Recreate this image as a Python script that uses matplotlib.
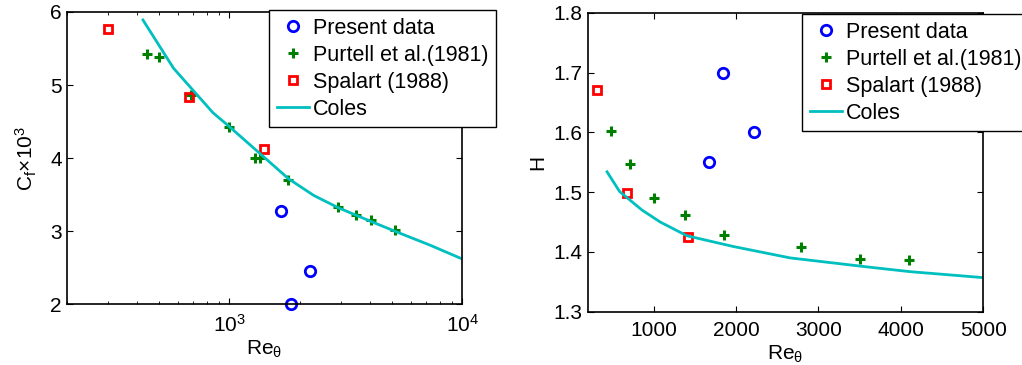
import matplotlib
matplotlib.use("Agg")
import matplotlib.pyplot as plt

plt.rcParams['font.family'] = ['Liberation Sans', 'DejaVu Sans']
plt.rcParams['mathtext.fontset'] = 'custom'
plt.rcParams['mathtext.rm'] = 'Liberation Sans'
plt.rcParams['mathtext.it'] = 'Liberation Sans'

# ---- left panel: skin friction ----
cf_present_re = [1667, 2208, 1842]
cf_present = [3.28, 2.45, 2.00]
cf_purtell_re = [444, 497, 682, 1000, 1289, 1355, 1786, 2925, 3483, 4053, 5150]
cf_purtell = [5.42, 5.39, 4.86, 4.42, 4.00, 4.00, 3.70, 3.33, 3.22, 3.15, 3.02]
cf_spalart_re = [301, 670, 1413]
cf_spalart = [5.76, 4.84, 4.12]
cf_coles_re = [425, 575, 850, 1000, 1400, 1790, 2300, 2940, 4080, 5230, 7260, 10000]
cf_coles = [5.89, 5.23, 4.62, 4.43, 4.02, 3.72, 3.49, 3.32, 3.13, 2.99, 2.81, 2.62]

# ---- right panel: shape factor ----
h_present_re = [1845, 2217, 1675]
h_present = [1.700, 1.600, 1.550]
h_purtell_re = [479, 714, 1008, 1376, 1857, 2794, 3505, 4099]
h_purtell = [1.603, 1.547, 1.491, 1.461, 1.428, 1.409, 1.388, 1.386]
h_spalart_re = [313, 678, 1421]
h_spalart = [1.670, 1.498, 1.425]
h_coles_re = [435, 588, 860, 1081, 1405, 1970, 2657, 3587, 4112, 5000]
h_coles = [1.534, 1.501, 1.470, 1.450, 1.427, 1.409, 1.390, 1.375, 1.367, 1.357]

blue, green, red, cyan = '#0000ff', '#008000', '#ff0000', '#00bfbf'
fs = 15

fig = plt.figure(figsize=(10.22, 3.65), dpi=100)
ax1 = fig.add_axes([0.0653, 0.1663, 0.387, 0.801])
ax2 = fig.add_axes([0.575, 0.146, 0.387, 0.819])

def draw(ax, pre, pv, ure, uv, sre, sv, cre, cv):
    ax.plot(pre, pv, 'o', mfc='none', mec=blue, mew=2, ms=7.5, label='Present data', clip_on=False)
    ax.plot(ure, uv, '+', color=green, mew=2.2, ms=7, label='Purtell et al.(1981)')
    ax.plot(sre, sv, 's', mfc='none', mec=red, mew=2, ms=6, label='Spalart (1988)')
    ax.plot(cre, cv, '-', color=cyan, lw=2, label='Coles')
    ax.tick_params(which='both', direction='in', top=True, right=True, labelsize=fs, length=4)
    ax.tick_params(axis='x', which='both', pad=7)
    ax.tick_params(which='minor', length=2.5)
    for s in ax.spines.values():
        s.set_linewidth(1.2)

def legend(ax, x0, y0):
    ax.legend(loc='upper left', bbox_to_anchor=(x0 / 1022, 1 - y0 / 365), bbox_transform=fig.transFigure,
              fontsize=15.5, frameon=True, fancybox=False, edgecolor='black', framealpha=1,
              labelspacing=0.28, handlelength=1.5, handletextpad=0.2, borderpad=0.35, borderaxespad=0)

draw(ax1, cf_present_re, cf_present, cf_purtell_re, cf_purtell,
     cf_spalart_re, cf_spalart, cf_coles_re, cf_coles)
ax1.set_xscale('log')
ax1.set_xlim(200, 10000)
ax1.set_ylim(2, 6)
ax1.set_yticks([2, 3, 4, 5, 6])
ax1.set_xlabel(r'Re$_\theta$', fontsize=fs, labelpad=2)
ax1.set_ylabel(r'C$_f$$\times$10$^3$', fontsize=fs, labelpad=8)
legend(ax1, 269, 10)

draw(ax2, h_present_re, h_present, h_purtell_re, h_purtell,
     h_spalart_re, h_spalart, h_coles_re, h_coles)
ax2.set_xlim(200, 5000)
ax2.set_ylim(1.3, 1.8)
ax2.set_xticks([1000, 2000, 3000, 4000, 5000])
ax2.set_yticks([1.3, 1.4, 1.5, 1.6, 1.7, 1.8])
ax2.set_yticklabels(['1.3', '1.4', '1.5', '1.6', '1.7', '1.8'])
ax2.set_xlabel(r'Re$_\theta$', fontsize=fs, labelpad=2)
ax2.set_ylabel('H', fontsize=fs, labelpad=5)
legend(ax2, 802, 14)

fig.savefig('out.png', dpi=100)
